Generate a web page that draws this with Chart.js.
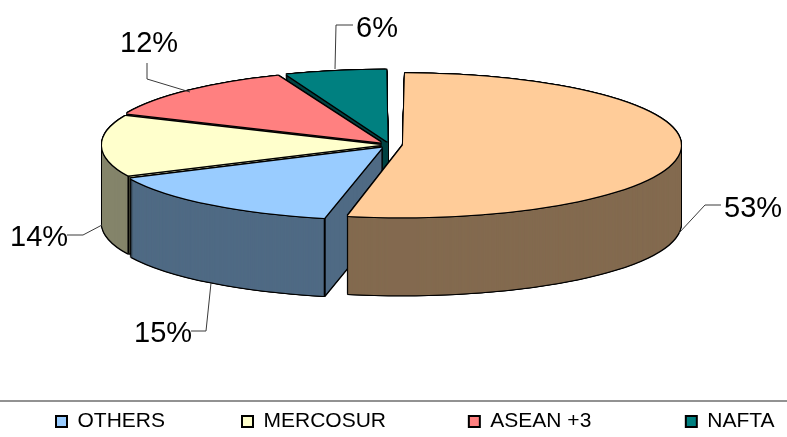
<!DOCTYPE html>
<html>
<head>
<meta charset="utf-8">
<script src="https://cdn.jsdelivr.net/npm/chart.js@4"></script>
<style>
    html, body { margin: 0; padding: 0; background: #ffffff; }
    canvas { display: block; }
</style>
</head>
<body>
<canvas id="chart" width="787" height="437"></canvas>
<script>
// first slice has no entry in the visible legend
const categories = ['', 'OTHERS', 'MERCOSUR', 'ASEAN +3', 'NAFTA'];
// the labels show them rounded
const shares = [53.3, 14.7, 13.6, 12.4, 6.0];
const topColors = ['#FFCC99', '#99CCFF', '#FFFFCC', '#FF8080', '#008080'];
const wallColors = ['#836A4F', '#4F6A84', '#84846A', '#844242', '#004242'];
const explode = [52, 52, 40, 52, 52];

// look of the fake 3D
const centerX = 390;
const centerY = 145;
const radius = 278;
const squash = 72 / 278;
const depth = 78;
const paintOrder = [4, 3, 2, 1, 0];
const ring = [[-1, 0], [1, 0], [0, -1], [0, 1], [-1, -1], [1, -1], [-1, 1], [1, 1]];

// trailing blanks widen the legend gaps, Chart.js only has one padding
const legendPad = ['', '', ' ', '   ', ''];

// label spot (left, baseline) and leader line for each slice
const labelSpots = [
    { x: 724, y: 217, line: [[721, 205], [705, 205], [679, 233]] },
    { x: 134, y: 342, line: [[191, 331], [206, 331], [211, 283]] },
    { x: 10, y: 246, line: [[67, 235], [83, 235], [102, 225]] },
    { x: 120, y: 52, line: [[147, 63], [147, 79], [190, 92]] },
    { x: 356, y: 37, line: [[353, 25], [336, 25], [335, 69]] }
];

function drawArcAt(ctx, chart, arc, color, dx, dy) {
    const area = chart.chartArea;
    const midX = (area.left + area.right) / 2;
    const midY = (area.top + area.bottom) / 2;
    const saved = arc.options;
    arc.options = Object.assign({}, saved, { backgroundColor: color, borderWidth: 0 });
    ctx.save();
    ctx.translate(centerX + dx, centerY + dy);
    ctx.scale(1, squash);
    ctx.translate(-midX, -midY);
    arc.draw(ctx);
    ctx.restore();
    arc.options = saved;
}

// arc.draw grows the rim by shift * fix, take that back so all rims match
function evenRim(arc) {
    const shift = (arc.options.offset || 0) / 4;
    const fix = 1 - Math.sin(Math.min(Math.PI, arc.circumference));
    arc.outerRadius = radius - shift * fix;
}

// outer corner of a slice at its start angle, on screen
function startCorner(arc) {
    const mid = (arc.startAngle + arc.endAngle) / 2;
    const shift = (arc.options.offset || 0) / 4;
    const px = Math.cos(mid) * shift + Math.cos(arc.startAngle) * radius;
    const py = Math.sin(mid) * shift + Math.sin(arc.startAngle) * radius;
    return { x: centerX + px, y: centerY + py * squash };
}

const pie3d = {
    id: 'pie3d',
    beforeDraw(chart) {
        // move the legend row where the original has it
        const legend = chart.legend;
        legend.left = -21;
        legend.right = 1000;
        legend.top = 334;
        legend.bottom = 437;
    },
    beforeDatasetDraw(chart) {
        const ctx = chart.ctx;
        const arcs = chart.getDatasetMeta(0).data;
        paintOrder.forEach((i) => {
            const arc = arcs[i];
            evenRim(arc);
            for (let d = depth; d >= 0; d--) {
                ring.forEach(([dx, dy]) => drawArcAt(ctx, chart, arc, '#000000', dx, dy + d));
            }
            for (let d = depth; d >= 1; d--) {
                drawArcAt(ctx, chart, arc, wallColors[i], 0, d);
            }
            ring.forEach(([dx, dy]) => drawArcAt(ctx, chart, arc, '#000000', dx, dy));
            drawArcAt(ctx, chart, arc, topColors[i], 0, 0);
            if (Math.sin(arc.startAngle) > 0) {
                const corner = startCorner(arc);
                ctx.strokeStyle = '#000000';
                ctx.lineWidth = 2;
                ctx.beginPath();
                ctx.moveTo(corner.x, corner.y);
                ctx.lineTo(corner.x, corner.y + depth);
                ctx.stroke();
            }
        });
        return false;
    },
    afterDraw(chart) {
        const ctx = chart.ctx;
        ctx.save();
        // rule above the legend
        ctx.strokeStyle = '#6e6e6e';
        ctx.lineWidth = 1.5;
        ctx.beginPath();
        ctx.moveTo(0, 401);
        ctx.lineTo(787, 401);
        ctx.stroke();

        ctx.font = '29px "Liberation Sans"';
        ctx.fillStyle = '#000000';
        ctx.textBaseline = 'alphabetic';
        ctx.textAlign = 'left';
        labelSpots.forEach((spot, i) => {
            ctx.strokeStyle = '#3a3a3a';
            ctx.lineWidth = 1;
            ctx.beginPath();
            spot.line.forEach(([x, y], n) => (n ? ctx.lineTo(x, y) : ctx.moveTo(x, y)));
            ctx.stroke();
            ctx.fillText(Math.round(shares[i]) + '%', spot.x, spot.y);
        });
        ctx.restore();
    }
};

new Chart(document.getElementById('chart'), {
    type: 'pie',
    data: {
        labels: categories,
        datasets: [{
            data: shares,
            backgroundColor: topColors,
            borderColor: '#000000',
            borderWidth: 2,
            offset: explode,
            radius: radius,
            clip: false
        }]
    },
    options: {
        responsive: false,
        animation: false,
        layout: { padding: 0 },
        plugins: {
            tooltip: { enabled: false },
            legend: {
                position: 'bottom',
                align: 'start',
                labels: {
                    color: '#000000',
                    font: { family: '"Liberation Sans"', size: 21 },
                    boxWidth: 11,
                    boxHeight: 11,
                    padding: 77,
                    filter: (item) => item.index > 0,
                    generateLabels(chart) {
                        const base = Chart.overrides.doughnut.plugins.legend.labels.generateLabels(chart);
                        return base.map((item) => {
                            item.text = item.text + legendPad[item.index];
                            return item;
                        });
                    }
                }
            }
        }
    },
    plugins: [pie3d]
});
</script>
</body>
</html>
